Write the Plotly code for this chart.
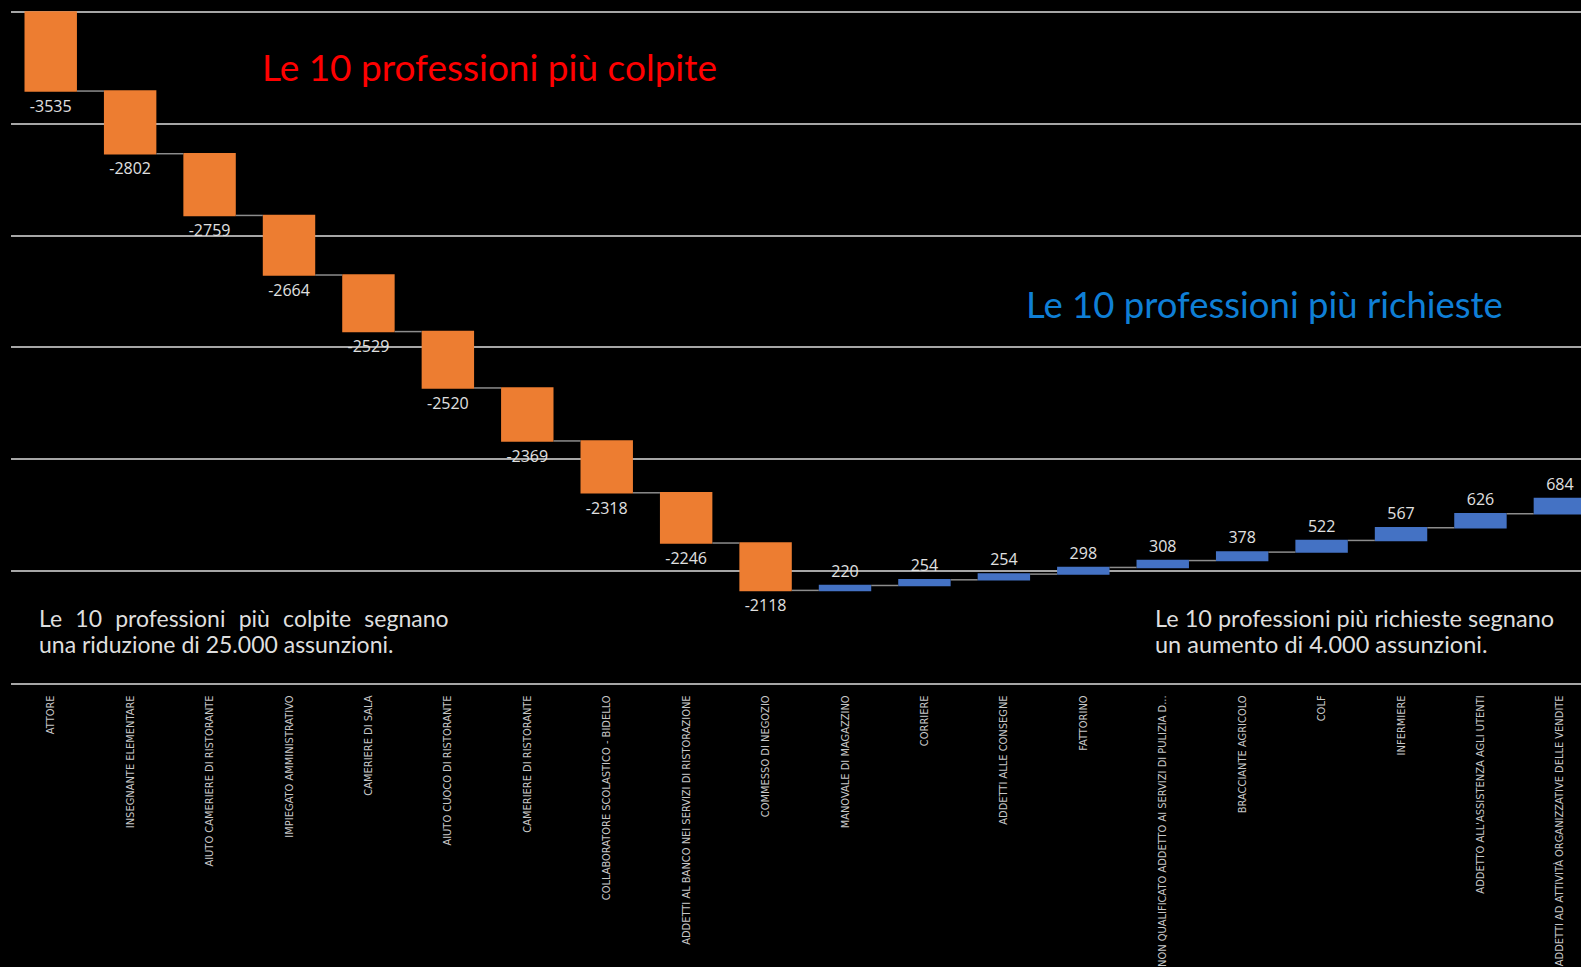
import plotly.graph_objects as go

categories = [
    "ATTORE", "INSEGNANTE ELEMENTARE", "AIUTO CAMERIERE DI RISTORANTE",
    "IMPIEGATO AMMINISTRATIVO", "CAMERIERE DI SALA", "AIUTO CUOCO DI RISTORANTE",
    "CAMERIERE DI RISTORANTE", "COLLABORATORE SCOLASTICO - BIDELLO",
    "ADDETTI AL BANCO NEI SERVIZI DI RISTORAZIONE", "COMMESSO DI NEGOZIO",
    "MANOVALE DI MAGAZZINO", "CORRIERE", "ADDETTI ALLE CONSEGNE", "FATTORINO",
    "PERSONALE NON QUALIFICATO ADDETTO AI SERVIZI DI PULIZIA D...",
    "BRACCIANTE AGRICOLO", "COLF", "INFERMIERE",
    "ADDETTO ALL'ASSISTENZA AGLI UTENTI",
    "ADDETTI AD ATTIVITÀ ORGANIZZATIVE DELLE VENDITE",
]
values = [-3535, -2802, -2759, -2664, -2529, -2520, -2369, -2318, -2246, -2118,
          220, 254, 254, 298, 308, 378, 522, 567, 626, 684]

W, H = 1581, 967
L, T, B = 11, 0, 284
PW, PH = W - L, H - T - B


def px(x):
    return (x - L) / PW


def py(y):
    return 1 - (y - T) / PH


fig = go.Figure(go.Waterfall(
    x=categories,
    y=values,
    measure=["relative"] * len(values),
    text=[str(v) for v in values],
    textposition="outside",
    textfont=dict(family="Open Sans, Liberation Sans, sans-serif", size=16, color="#e0e0e0"),
    increasing=dict(marker=dict(color="#4472C4")),
    decreasing=dict(marker=dict(color="#ED7D31")),
    connector=dict(line=dict(color="#8c8c8c", width=1.5)),
    cliponaxis=False,
    hoverinfo="skip",
))

TF = "Lato, Noto Sans, sans-serif"
sp = "  \u200a"
annotations = [
    dict(text="Le 10 professioni più colpite", x=px(260), y=py(66), xanchor="left", yanchor="middle",
         font=dict(family=TF, size=37, color="#FF0000")),
    dict(text="Le 10 professioni più richieste", x=px(1024), y=py(304), xanchor="left", yanchor="middle",
         font=dict(family=TF, size=36.5, color="#0F7FD6")),
    dict(text=sp.join(["Le", "10", "professioni", "più", "colpite", "segnano"]), x=px(37), y=py(618),
         xanchor="left", yanchor="middle", font=dict(family=TF, size=23, color="#dedede")),
    dict(text="una riduzione di 25.000 assunzioni.", x=px(37), y=py(644), xanchor="left", yanchor="middle",
         font=dict(family=TF, size=23, color="#dedede")),
    dict(text="Le 10 professioni più richieste segnano", x=px(1153), y=py(618), xanchor="left", yanchor="middle",
         font=dict(family=TF, size=23.5, color="#dedede")),
    dict(text="un aumento di 4.000 assunzioni.", x=px(1153), y=py(644), xanchor="left", yanchor="middle",
         font=dict(family=TF, size=23.5, color="#dedede")),
]
for a in annotations:
    a.update(xref="paper", yref="paper", showarrow=False)

fig.update_layout(
    width=W, height=H,
    margin=dict(l=L, r=0, t=T, b=B),
    paper_bgcolor="#000000",
    plot_bgcolor="#000000",
    showlegend=False,
    waterfallgap=0.34,
    annotations=annotations,
    xaxis=dict(
        range=[-0.5, -0.5 + PW / 79.43],
        tickangle=-90,
        tickfont=dict(family="Liberation Sans Narrow, DejaVu Sans Condensed, Liberation Sans, sans-serif",
                      size=11, color="#c8c8c8"),
        showgrid=False,
        showline=True, linecolor="#a6a6a6", linewidth=2,
        ticks="",
        ticklabelstandoff=6,
        automargin=False,
        fixedrange=True,
    ),
    yaxis=dict(
        range=[-30000, 5000 * 12 / 112],
        dtick=5000,
        tick0=0,
        showgrid=True, gridcolor="#a6a6a6", gridwidth=2,
        zeroline=False,
        showticklabels=False,
        ticks="",
        automargin=False,
        fixedrange=True,
    ),
)

fig.write_html("out.html")
